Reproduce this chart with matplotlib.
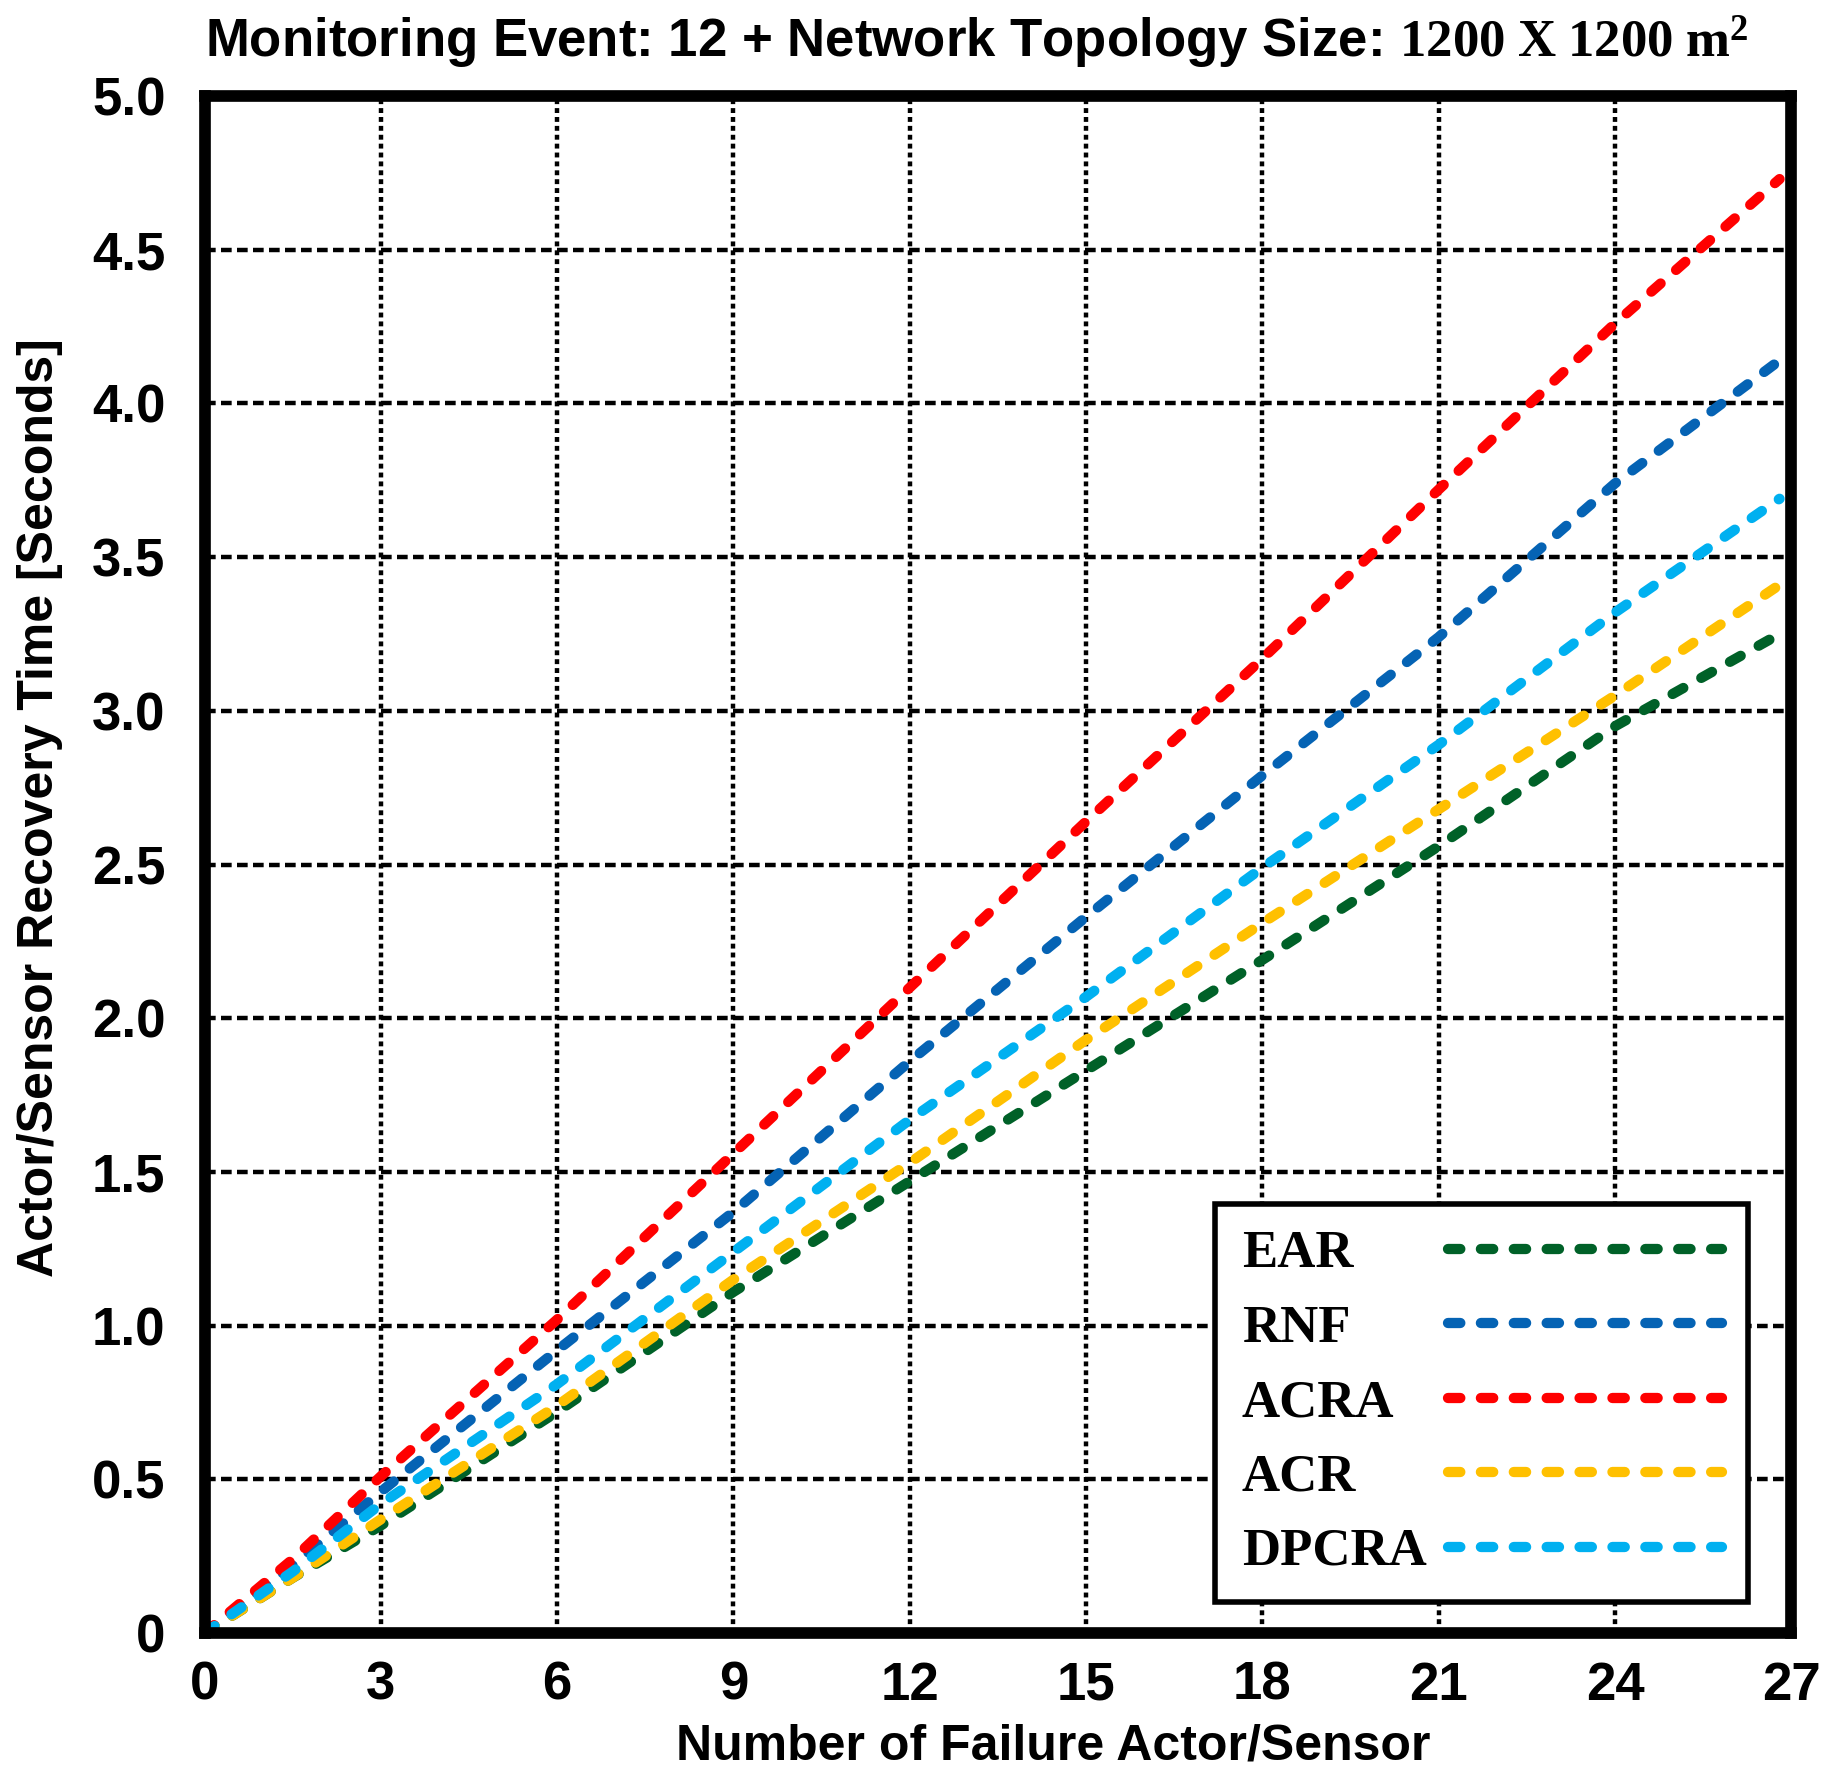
import numpy as np
from matplotlib import rcParams
from matplotlib import pyplot as plt

rcParams['font.family'] = 'Liberation Sans'
rcParams['font.weight'] = 'bold'
rcParams['mathtext.fontset'] = 'custom'
rcParams['mathtext.rm'] = 'Liberation Serif'
rcParams['mathtext.bf'] = 'Liberation Serif:bold'

# number of failed actors/sensors
failures = [0, 1.5, 3, 6, 9, 12, 15, 18, 21, 24, 26.8]

# recovery time in seconds
ear = [0, 0.18, 0.35, 0.72, 1.11, 1.47, 1.83, 2.19, 2.56, 2.95, 3.25]
rnf = [0, 0.22, 0.46, 0.92, 1.37, 1.86, 2.33, 2.79, 3.24, 3.74, 4.14]
acra = [0, 0.24, 0.51, 1.02, 1.56, 2.10, 2.64, 3.17, 3.72, 4.26, 4.73]
acr = [0, 0.18, 0.37, 0.74, 1.15, 1.53, 1.93, 2.31, 2.68, 3.05, 3.41]
dpcra = [0, 0.20, 0.42, 0.81, 1.24, 1.67, 2.07, 2.49, 2.89, 3.32, 3.69]

names = ["EAR", "RNF", "ACRA", "ACR", "DPCRA"]
colors = ["#006128", "#0563B4", "#FF0000", "#FFC000", "#00B0F0"]

x_ticks = [0, 3, 6, 9, 12, 15, 18, 21, 24, 27]
y_ticks = [0, 0.5, 1.0, 1.5, 2.0, 2.5, 3.0, 3.5, 4.0, 4.5, 5.0]
y_tick_labels = ["0", "0.5", "1.0", "1.5", "2.0", "2.5", "3.0", "3.5", "4.0", "4.5", "5.0"]


def left_align_legend(fig, leg, pad_pt):
    # labels sit left of the handles but should be left aligned
    fig.canvas.draw()
    r = fig.canvas.get_renderer()
    widths = [t.get_window_extent(r).width * 72 / fig.dpi for t in leg.get_texts()]
    wmax = max(widths)
    col = leg._legend_handle_box.get_children()[0]
    for item, w in zip(col.get_children(), widths):
        item.sep = pad_pt + (wmax - w)


def main():
    fig = plt.figure(figsize=(9.13, 8.895), dpi=200)
    ax = fig.add_axes([0.112, 0.082, 0.869, 0.864])

    for series, name, color in zip([ear, rnf, acra, acr, dpcra], names, colors):
        ax.plot(failures, series, color=color, lw=3.7, linestyle=(0, (1.2, 2.0)),
                dash_capstyle='round', label=name)

    ax.set_xlim(0, 27)
    ax.set_ylim(0, 5.0)
    ax.set_xticks(x_ticks)
    ax.set_yticks(y_ticks)
    ax.set_yticklabels(y_tick_labels)
    ax.tick_params(length=0, labelsize=19, pad=14)
    ax.tick_params(axis='x', pad=10)

    for v in x_ticks[1:-1]:
        ax.axvline(v, color='black', lw=1.6, linestyle=(0, (1.1, 0.9)), zorder=0)
    for v in y_ticks[1:-1]:
        ax.axhline(v, color='black', lw=1.6, linestyle=(0, (2.4, 1.2)), zorder=0)

    for s in ax.spines.values():
        s.set_linewidth(4.2)

    leg = ax.legend(loc='lower right', bbox_to_anchor=(0.973, 0.02), markerfirst=False,
                    prop={'family': 'Liberation Serif', 'weight': 'bold', 'size': 19},
                    handlelength=5.2, handletextpad=0.4, labelspacing=0.5,
                    fancybox=False, framealpha=1, borderpad=0.5, borderaxespad=0)
    leg.get_frame().set_edgecolor('black')
    leg.get_frame().set_linewidth(2.0)

    fig.text(0.535, 0.976, r"Monitoring Event: 12 + Network Topology Size: $\mathbf{1200\:X\:1200\:m^2}$",
             ha='center', va='center', fontsize=19, fontweight='bold')
    fig.text(0.577, 0.018, "Number of Failure Actor/Sensor", ha='center', va='center',
             fontsize=18, fontweight='bold')
    fig.text(0.022, 0.546, "Actor/Sensor Recovery Time [Seconds]", ha='center', va='center',
             rotation=90, fontsize=18, fontweight='bold')

    left_align_legend(fig, leg, 0.4 * 19)

    plt.savefig("out.png", dpi=200)


if __name__ == "__main__":
    main()
